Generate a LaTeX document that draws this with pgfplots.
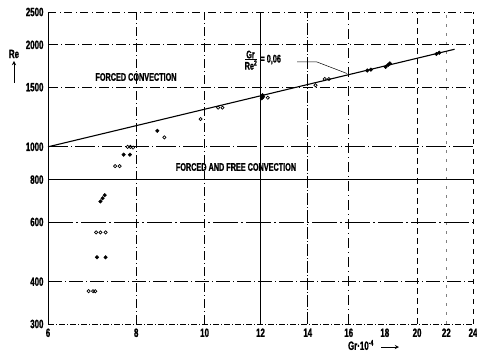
\documentclass[border=0pt]{standalone}
\usepackage{fontspec}
\setmainfont{Liberation Sans}[FakeStretch=0.66, BoldFeatures={FakeBold=1.2}]
\usepackage{pgfplots}
\pgfplotsset{compat=1.18}
\begin{document}
\begin{tikzpicture}[x=1pt,y=1pt]
\path[use as bounding box] (0,0) rectangle (477,357);
\begin{axis}[at={(48pt,33pt)}, anchor=south west, scale only axis,
  width=425pt, height=312pt,
  xmode=log, ymode=log, xmin=6, xmax=24, ymin=300, ymax=2500,
  xtick={6,8,10,12,14,16,18,20,22,24},
  xticklabels={6,8,10,12,14,16,18,20,22,24},
  ytick={300,400,600,800,1000,1500,2000,2500},
  yticklabels={300,400,600,800,1000,1500,2000,2500},
  minor xtick={}, minor ytick={},
  major tick length=0pt,
  axis line style={draw=none},
  tick style={draw=none},
  clip=false,
  /pgf/number format/assume math mode=true,
  tick label style={font=\bfseries\fontsize{12}{12}\selectfont},
  xticklabel style={yshift=-1pt},
  yticklabel style={xshift=-1pt},
]
% border
\draw[line width=0.8pt] (axis cs:6,300) -- (axis cs:6,2500);
\draw[line width=0.7pt, dash pattern=on 6pt off 2pt on 1pt off 2pt] (axis cs:6,300) -- (axis cs:24,300);
\draw[line width=0.6pt, dash pattern=on 8pt off 4pt on 1pt off 3pt] (axis cs:6,2500) -- (axis cs:24,2500);
\draw[line width=0.6pt, dash pattern=on 5pt off 5pt] (axis cs:24,300) -- (axis cs:24,2500);
% vertical grid
\draw[line width=0.7pt, dash pattern=on 9pt off 3pt on 1pt off 3pt] (axis cs:8,300) -- (axis cs:8,2500);
\draw[line width=0.7pt, dash pattern=on 9pt off 3pt on 1pt off 3pt] (axis cs:10,300) -- (axis cs:10,2500);
\draw[line width=0.8pt] (axis cs:12,300) -- (axis cs:12,2500);
\draw[line width=0.7pt, dash pattern=on 12pt off 2pt on 1pt off 2pt] (axis cs:14,300) -- (axis cs:14,2500);
\draw[line width=0.7pt, dash pattern=on 10pt off 4pt on 1pt off 4pt] (axis cs:16,300) -- (axis cs:16,2500);
\draw[line width=0.7pt, dash pattern=on 6pt off 4pt] (axis cs:20,300) -- (axis cs:20,2500);
\draw[line width=0.5pt, gray, dash pattern=on 3pt off 6pt] (axis cs:22,300) -- (axis cs:22,2500);
% horizontal grid
\draw[line width=0.7pt, dash pattern=on 10pt off 3pt on 1pt off 3pt] (axis cs:6,2000) -- (axis cs:24,2000);
\draw[line width=0.7pt, dash pattern=on 10pt off 3pt on 1pt off 3pt] (axis cs:6,1500) -- (axis cs:24,1500);
\draw[line width=0.8pt, dash pattern=on 20pt off 3pt on 1pt off 3pt] (axis cs:6,1000) -- (axis cs:24,1000);
\draw[line width=0.8pt] (axis cs:6,800) -- (axis cs:24,800);
\draw[line width=0.7pt, dash pattern=on 25pt off 3pt on 2pt off 3pt] (axis cs:6,600) -- (axis cs:24,600);
\draw[line width=0.7pt, dash pattern=on 14pt off 3pt on 1pt off 3pt] (axis cs:6,400) -- (axis cs:24,400);
% Gr/Re^2 = 0.06 line
\addplot[black, line width=1.1pt] coordinates {(6,1000) (22.6,1941)};
% filled points
\addplot[only marks, mark=*, mark size=1.8pt, black] coordinates {
(7.04,472) (7.24,472)
(7.12,690) (7.17,705) (7.22,720)
(7.68,948) (7.84,948)
(8.57,1115)
(12.05,1390) (12.1,1405) (12.08,1420)
(17.0,1680) (17.2,1690)
(18.05,1722) (18.2,1745) (18.3,1763)
(21.3,1880) (21.5,1895)
};
% open points
\addplot[only marks, mark=o, mark size=1.6pt, black, line width=0.7pt] coordinates {
(6.85,375) (6.95,375) (7.0,375)
(7.02,559) (7.12,559) (7.24,559)
(7.47,877) (7.58,877)
(7.78,1000) (7.85,1000) (7.92,995)
(8.77,1066)
(9.87,1208)
(10.45,1305) (10.6,1305)
(12.29,1396)
(14.36,1520)
(14.8,1585) (15.0,1585)
};
\end{axis}
% texts
\node[font=\bfseries\fontsize{11}{11}\selectfont] at (136,280) {FORCED CONVECTION};
\node[font=\bfseries\fontsize{11}{11}\selectfont] at (236,190) {FORCED AND FREE CONVECTION};
\node[font=\bfseries\fontsize{11}{11}\selectfont] at (250.5,302.5) {Gr};
\draw[line width=0.6pt] (245,298) -- (257,298);
\node[font=\bfseries\fontsize{11}{11}\selectfont] at (251,292) {Re\textsuperscript{2}};
\node[font=\bfseries\fontsize{11}{11}\selectfont, anchor=west] at (257,297.5) {= 0,06};
\draw[line width=0.5pt] (297,295) -- (317,295) -- (347,283.5);
% axis labels
\node[font=\bfseries\fontsize{12}{12}\selectfont] at (14,303) {Re};
\draw[line width=0.9pt, -stealth] (14,274) -- (14,296);
\node[font=\bfseries\fontsize{12}{12}\selectfont] at (361,12) {Gr·10\textsuperscript{-4}};
\draw[line width=0.9pt, -stealth] (381,10) -- (399,10);
\end{tikzpicture}
\end{document}
